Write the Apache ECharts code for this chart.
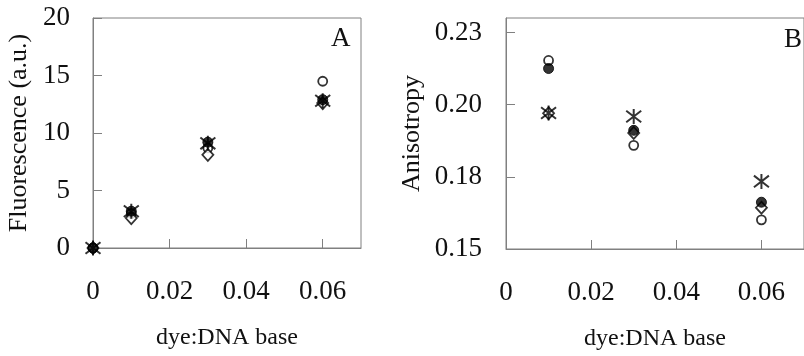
<!DOCTYPE html>
<html>
<head>
<meta charset="utf-8">
<script src="https://cdn.jsdelivr.net/npm/echarts@6/dist/echarts.min.js"></script>
<style>
html,body{margin:0;padding:0;background:#fff;}
#chart{width:804px;height:356px;}
</style>
</head>
<body>
<div id="chart"></div>
<script>
// ---- data ----
var xA = [0, 0.01, 0.03, 0.06];
var xB = [0.01, 0.03, 0.06];

var openCircleA   = [0, 3.0, 8.7, 14.5];
var filledCircleA = [0, 3.2, 9.2, 12.9];
var diamondA      = [0, 2.6, 8.1, 12.6];
var asteriskA     = [0, 3.2, 9.1, 12.8];

var openCircleB   = [0.2153, 0.1859, 0.1601];
var filledCircleB = [0.2125, 0.1911, 0.1662];
var diamondB      = [0.1970, 0.1902, 0.1643];
var asteriskB     = [0.1971, 0.1959, 0.1734];

var xTickLabels  = ['0', '0.02', '0.04', '0.06'];
var yTickLabelsA = ['0', '5', '10', '15', '20'];
var yTickLabelsB = ['0.15', '0.18', '0.20', '0.23'];

var xName = 'dye:DNA base';
var yNameA = 'Fluorescence (a.u.)';
var yNameB = 'Anisotropy';
var panelA = 'A', panelB = 'B';

// ---- helpers ----
function pairs(xs, ys) { return xs.map(function (x, i) { return [x, ys[i]]; }); }
var FONT = 'Liberation Serif';
var AX = '#808080';
var TXT = '#111';
var TICK_FS = 27, NAME_FS = 26;
var asteriskPath = 'path://M0,0L10,10M10,0L0,10M5,-1.5L5,11.5';

function labelFrom(arr, min, step) {
  return function (v) {
    var i = Math.round((v - min) / step);
    return arr[i] !== undefined ? arr[i] : '';
  };
}

function xAxisCfg(gi) {
  return {
    gridIndex: gi, type: 'value', min: 0, max: 0.07, interval: 0.02,
    name: xName, nameLocation: 'middle', nameGap: 78,
    nameTextStyle: { fontFamily: FONT, fontSize: NAME_FS - 2, color: TXT },
    axisLine: { lineStyle: { color: AX, width: 1 } },
    axisTick: { inside: true, length: 9, lineStyle: { color: AX } },
    axisLabel: { margin: 30, fontFamily: FONT, fontSize: TICK_FS, color: TXT, showMaxLabel: false,
                 formatter: labelFrom(xTickLabels, 0, 0.02) },
    splitLine: { show: false }
  };
}

function seriesSet(xi, xs, oc, fc, dm, as) {
  return [
    { type: 'scatter', xAxisIndex: xi, yAxisIndex: xi, data: pairs(xs, oc), symbol: 'circle', symbolSize: 9,
      itemStyle: { color: '#fff', borderColor: '#000', borderWidth: 1.8 }, z: 2 },
    { type: 'scatter', xAxisIndex: xi, yAxisIndex: xi, data: pairs(xs, dm), symbol: 'diamond', symbolSize: [11, 12],
      itemStyle: { color: '#fff', borderColor: '#000', borderWidth: 1.8 }, z: 3 },
    { type: 'scatter', xAxisIndex: xi, yAxisIndex: xi, data: pairs(xs, fc), symbol: 'circle', symbolSize: 10,
      itemStyle: { color: '#000', borderColor: '#000', borderWidth: 1 }, z: 4 },
    { type: 'scatter', xAxisIndex: xi, yAxisIndex: xi, data: pairs(xs, as), symbol: asteriskPath, symbolSize: 15,
      itemStyle: { color: 'none', borderColor: '#000', borderWidth: 2 }, z: 5 }
  ];
}

var option = {
  animation: false,
  backgroundColor: '#fff',
  title: [
    { text: panelA, left: 331, top: 25, textStyle: { fontFamily: FONT, fontSize: 27, fontWeight: 'normal', color: TXT }, padding: 0 },
    { text: panelB, left: 784, top: 26, textStyle: { fontFamily: FONT, fontSize: 27, fontWeight: 'normal', color: TXT }, padding: 0 }
  ],
  grid: [
    { left: 93, top: 18, width: 268, height: 230, show: true, borderColor: AX, borderWidth: 1, backgroundColor: 'transparent' },
    { left: 506, top: 18, width: 301, height: 231, show: true, borderColor: AX, borderWidth: 1, backgroundColor: 'transparent' }
  ],
  xAxis: [xAxisCfg(0), xAxisCfg(1)],
  yAxis: [
    { gridIndex: 0, type: 'value', min: 0, max: 20, interval: 5,
      name: yNameA, nameLocation: 'middle', nameGap: 61,
      nameTextStyle: { fontFamily: FONT, fontSize: NAME_FS, color: TXT },
      axisLine: { lineStyle: { color: AX } },
      axisTick: { inside: true, length: 9, lineStyle: { color: AX } },
      axisLabel: { margin: 23, fontFamily: FONT, fontSize: TICK_FS, color: TXT,
                   formatter: labelFrom(yTickLabelsA, 0, 5) },
      splitLine: { show: false } },
    { gridIndex: 1, type: 'value', min: 0.15, max: 0.23, interval: 0.025,
      name: yNameB, nameLocation: 'middle', nameGap: 81,
      nameTextStyle: { fontFamily: FONT, fontSize: NAME_FS, color: TXT },
      axisLine: { lineStyle: { color: AX } },
      axisTick: { inside: true, length: 9, lineStyle: { color: AX } },
      axisLabel: { margin: 24, fontFamily: FONT, fontSize: TICK_FS, color: TXT, showMaxLabel: false,
                   formatter: labelFrom(yTickLabelsB, 0.15, 0.025) },
      splitLine: { show: false } }
  ],
  series: seriesSet(0, xA, openCircleA, filledCircleA, diamondA, asteriskA)
    .concat(seriesSet(1, xB, openCircleB, filledCircleB, diamondB, asteriskB))
};

var chart = echarts.init(document.getElementById('chart'), null, { renderer: 'canvas' });
chart.setOption(option);
</script>
</body>
</html>
